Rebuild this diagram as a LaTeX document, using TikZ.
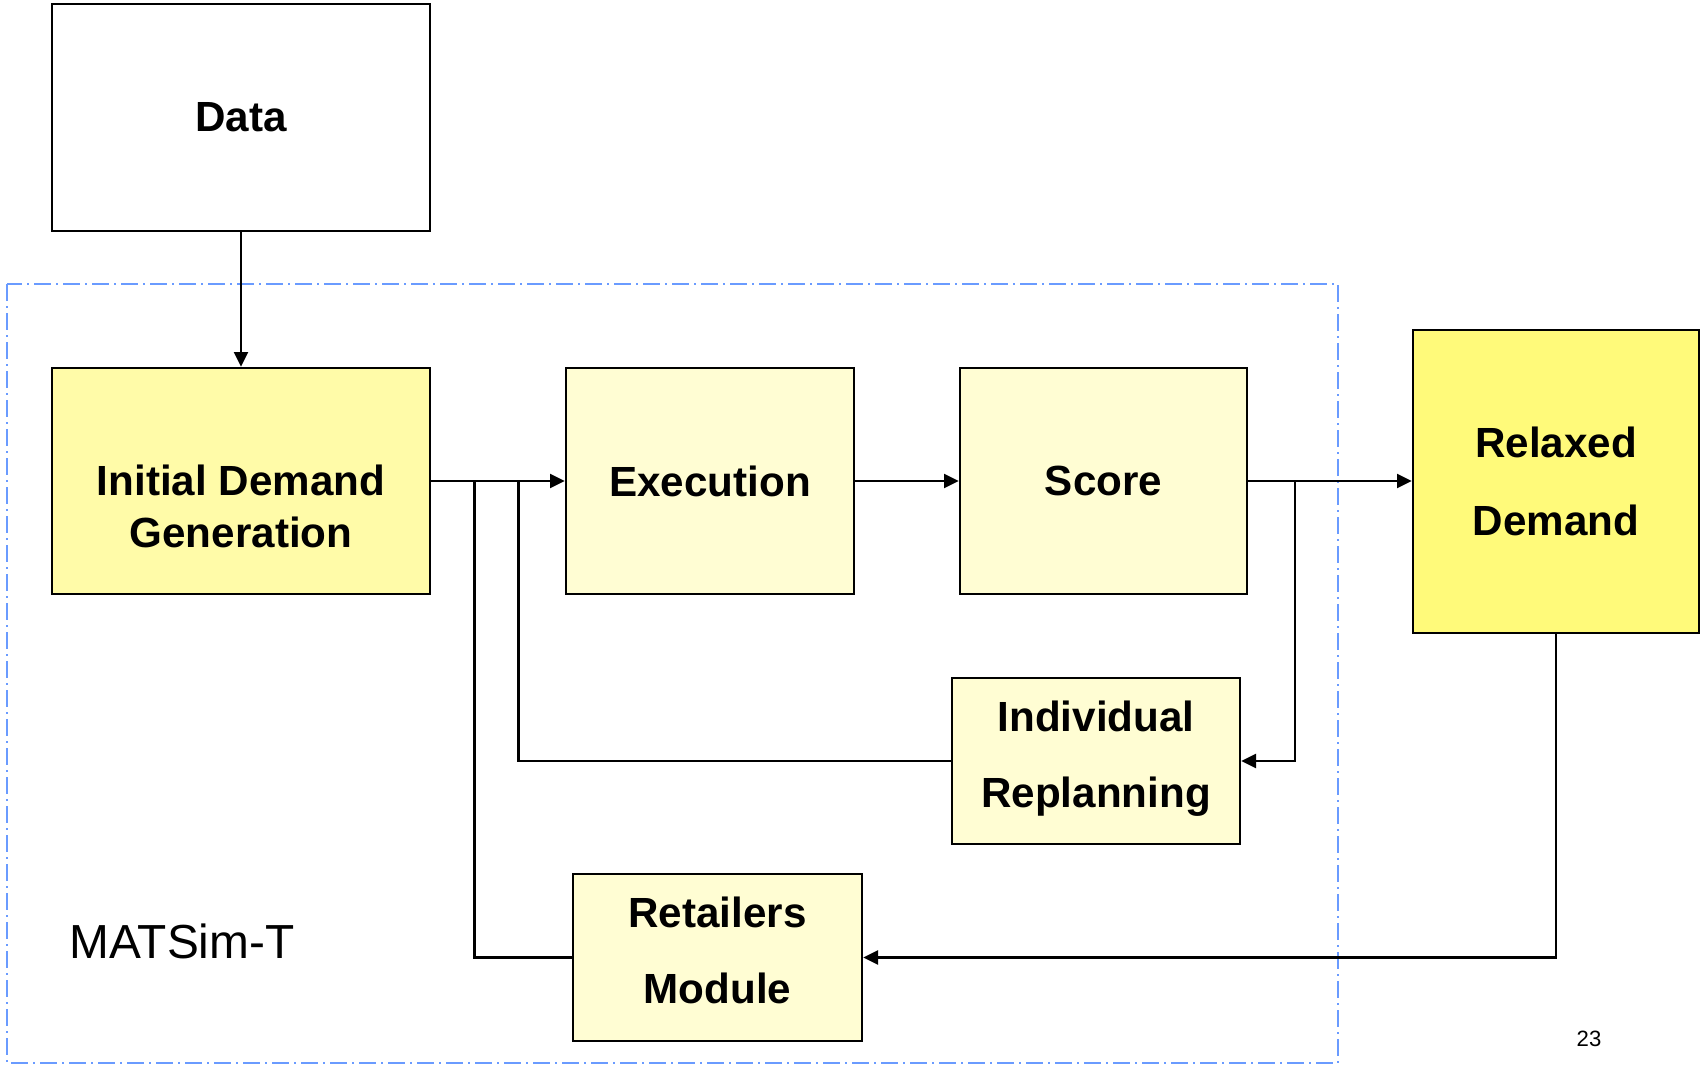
\documentclass[tikz,border=0pt]{standalone}
\usepackage{fontspec}
\setmainfont{Liberation Sans}
\usetikzlibrary{arrows.meta,shapes}

\definecolor{paleyel}{HTML}{FFFDD3}
\definecolor{midyel}{HTML}{FFFBA8}
\definecolor{strongyel}{HTML}{FFFA7A}
\definecolor{frameblue}{HTML}{6A9BFF}

\begin{document}
\begin{tikzpicture}[x=1cm,y=1cm]
      \tikzstyle{box}=[rectangle,draw=black,line width=0.7pt,inner sep=0pt,align=center,
        font=\fontsize{12}{14.8}\selectfont\bfseries]
      \tikzstyle{wire}=[line width=0.6pt,draw=black]
      \tikzstyle{arr}=[wire,-{Triangle[length=4.2pt,width=4pt]}]

      \useasboundingbox (0,0) rectangle (17,-10.65);

      \draw[frameblue,line width=0.5pt,dash pattern=on 0.17cm off 0.05cm on 0.02cm off 0.05cm]
        (0.07,-2.84) rectangle (13.38,-10.63);

      \node[box,fill=white,minimum width=3.78cm,minimum height=2.27cm](data) at (2.41,-1.175){Data};
      \node[box,fill=midyel,minimum width=3.78cm,minimum height=2.26cm](init) at (2.41,-4.81)
        {\rule{0pt}{23pt}Initial Demand\\Generation};
      \node[box,fill=paleyel,minimum width=2.88cm,minimum height=2.26cm](exec) at (7.10,-4.81){Execution};
      \node[box,fill=paleyel,minimum width=2.87cm,minimum height=2.26cm](score) at (11.035,-4.81){Score};
      \node[box,fill=strongyel,minimum width=2.86cm,minimum height=3.03cm,
        font=\fontsize{12}{22.1}\selectfont\bfseries](relax) at (15.56,-4.815){Relaxed\\Demand};
      \node[box,fill=paleyel,minimum width=2.88cm,minimum height=1.66cm,
        font=\fontsize{12}{21.6}\selectfont\bfseries](replan) at (10.96,-7.61){Individual\\Replanning\rule[-4pt]{0pt}{0pt}};
      \node[box,fill=paleyel,minimum width=2.89cm,minimum height=1.67cm,
        font=\fontsize{12}{21.6}\selectfont\bfseries](retail) at (7.175,-9.575){Retailers\\Module\rule[-4.4pt]{0pt}{0pt}};

      \node[anchor=base west,inner sep=0pt,font=\fontsize{13.6}{16}\selectfont](label) at (0.69,-9.58){MATSim-T};
      \node[anchor=base west,inner sep=0pt,font=\fontsize{6.3}{8}\selectfont](page) at (15.76,-10.46){23};

      \coordinate (j1) at (4.745,-4.81);
      \coordinate (j2) at (5.185,-4.81);
      \coordinate (j3) at (12.95,-4.81);

      \draw[arr] (data) -- (init);
      \draw[arr] (init) -- (exec);
      \draw[arr] (exec) -- (score);
      \draw[arr] (score.east) -- (relax.west |- score.east);
      \draw[wire] (retail.west) -| (j1);
      \draw[wire] (replan.west) -| (j2);
      \draw[arr] (j3) |- (replan.east);
      \draw[arr] (relax.south) |- (retail.east);
\end{tikzpicture}
\end{document}
